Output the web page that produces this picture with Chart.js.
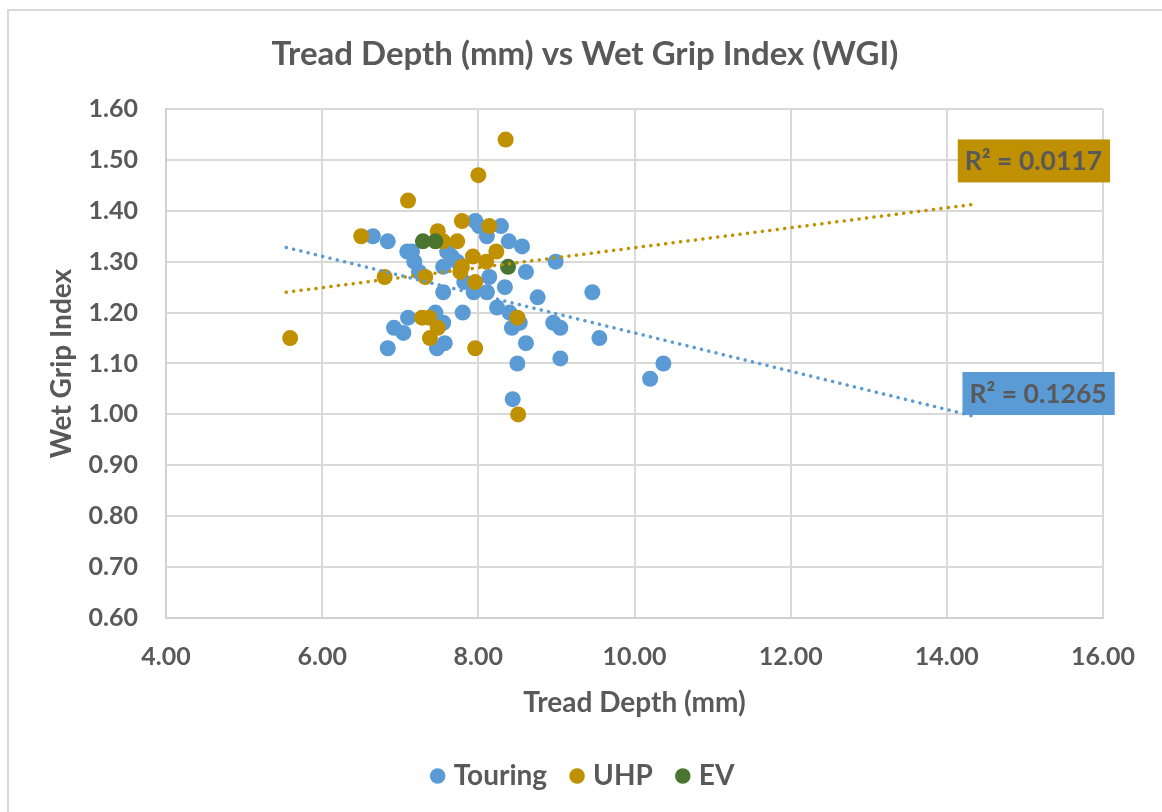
<!DOCTYPE html>
<html>
<head>
<meta charset="utf-8">
<script src="https://cdn.jsdelivr.net/npm/chart.js@4.4.0/dist/chart.umd.min.js"></script>
<style>
  html, body { margin: 0; padding: 0; background: #fff; }
  canvas { display: block; }
</style>
</head>
<body>
<canvas id="wgiChart" width="1162" height="812"></canvas>
<script>
// ============================
//  DATA
// ============================

const touringDepth = [6.65, 6.84, 6.84, 6.92, 7.04, 7.10, 7.09, 7.15, 7.18, 7.24, 7.45, 7.47, 7.55, 7.55, 7.57,
    7.55, 7.60, 7.66, 7.73, 7.80, 7.82, 7.96, 8.01, 7.94, 8.11, 8.11, 8.14, 8.29, 8.24, 8.34, 8.39,
    8.40, 8.43, 8.44, 8.50, 8.53, 8.56, 8.61, 8.61, 8.76, 8.96, 8.99, 9.05, 9.05, 9.46, 9.55, 10.20, 10.37];
const touringWGI = [1.35, 1.34, 1.13, 1.17, 1.16, 1.19, 1.32, 1.32, 1.30, 1.28, 1.20, 1.13, 1.24, 1.18, 1.14,
    1.29, 1.32, 1.31, 1.30, 1.20, 1.26, 1.38, 1.37, 1.24, 1.24, 1.35, 1.27, 1.37, 1.21, 1.25, 1.34,
    1.20, 1.17, 1.03, 1.10, 1.18, 1.33, 1.28, 1.14, 1.23, 1.18, 1.30, 1.17, 1.11, 1.24, 1.15, 1.07, 1.10];

const uhpDepth = [5.59, 6.50, 6.80, 7.10, 7.32, 7.28, 7.37, 7.38, 7.48, 7.48, 7.55, 7.73, 7.79, 7.79,
    7.77, 7.93, 8.00, 7.96, 7.96, 8.14, 8.10, 8.23, 8.35, 8.50, 8.51];
const uhpWGI = [1.15, 1.35, 1.27, 1.42, 1.27, 1.19, 1.19, 1.15, 1.17, 1.36, 1.34, 1.34, 1.38, 1.29,
    1.28, 1.31, 1.47, 1.13, 1.26, 1.37, 1.30, 1.32, 1.54, 1.19, 1.00];

const evDepth = [7.29, 7.45, 8.38];
const evWGI = [1.34, 1.34, 1.29];

// linear trendlines (end points as drawn)
const touringTrendX = [5.54, 14.36];
const touringTrendY = [1.328, 0.996];
const uhpTrendX = [5.54, 14.36];
const uhpTrendY = [1.240, 1.413];
const touringR2 = 0.1265;
const uhpR2 = 0.0117;

const xTicks = [4, 6, 8, 10, 12, 14, 16];
const yTicks = [0.6, 0.7, 0.8, 0.9, 1.0, 1.1, 1.2, 1.3, 1.4, 1.5, 1.6];

const BLUE = '#5B9BD5';
const GOLD = '#BF9000';
const GREEN = '#4A7530';
const TEXT = '#595959';
const FONT = 'Lato, "Open Sans", sans-serif';

function pts(xs, ys) {
    return xs.map((x, i) => ({ x: x, y: ys[i] }));
}

// ============================
//  PLUGINS
// ============================

const frame = {
    id: 'frame',
    beforeDraw(chart) {
        const c = chart.ctx;
        c.save();
        c.fillStyle = '#fff';
        c.fillRect(0, 0, chart.width, chart.height);
        c.strokeStyle = '#d9d9d9';
        c.lineWidth = 2;
        c.strokeRect(8, 10, chart.width + 20, chart.height + 20);
        c.restore();
    }
};

const r2Labels = {
    id: 'r2Labels',
    afterDatasetsDraw(chart, args, opts) {
        const c = chart.ctx;
        const xs = chart.scales.x, ys = chart.scales.y;
        c.save();
        c.font = 'bold 26.5px ' + FONT;
        c.textBaseline = 'middle';
        opts.items.forEach(it => {
            const left = xs.getPixelForValue(it.x);
            const cy = ys.getPixelForValue(it.y);
            const txt = 'R² = ' + it.value.toFixed(4);
            const w = c.measureText(txt).width + 15;
            c.fillStyle = it.color;
            c.fillRect(left, cy - 21.5, w, 43);
            c.fillStyle = TEXT;
            c.fillText(txt, left + 7, cy + 1);
        });
        c.restore();
    }
};

// ============================
//  CHART
// ============================

const ctx = document.getElementById('wgiChart').getContext('2d');

const trendStyle = {
    type: 'line',
    showLine: true,
    pointRadius: 0,
    borderWidth: 3.5,
    borderDash: [0.1, 7.4],
    borderCapStyle: 'round',
    fill: false,
    order: 0
};

new Chart(ctx, {
    type: 'scatter',
    data: {
        datasets: [
            { label: 'Touring', data: pts(touringDepth, touringWGI), backgroundColor: BLUE, borderWidth: 0, pointRadius: 8, order: 3 },
            { label: 'UHP', data: pts(uhpDepth, uhpWGI), backgroundColor: GOLD, borderWidth: 0, pointRadius: 8, order: 2 },
            { label: 'EV', data: pts(evDepth, evWGI), backgroundColor: GREEN, borderWidth: 0, pointRadius: 8, order: 1 },
            Object.assign({ label: 'trendT', data: pts(touringTrendX, touringTrendY), borderColor: BLUE }, trendStyle),
            Object.assign({ label: 'trendU', data: pts(uhpTrendX, uhpTrendY), borderColor: GOLD }, trendStyle)
        ]
    },
    options: {
        responsive: false,
        animation: false,
        layout: { padding: { left: 8, right: 0, top: 0, bottom: 12 } },
        scales: {
            x: {
                type: 'linear',
                min: 4, max: 16,
                afterBuildTicks: s => { s.ticks = xTicks.map(v => ({ value: v })); },
                afterFit: s => { s.height = 116; },
                ticks: { callback: v => v.toFixed(2), color: TEXT, font: { family: FONT, size: 25, weight: 'bold' }, padding: 24, maxRotation: 0 },
                grid: { color: '#d9d9d9', lineWidth: 2, drawTicks: false },
                border: { color: '#d0d0d0', width: 2 },
                title: { display: true, text: 'Tread Depth (mm)', color: TEXT, font: { family: FONT, size: 28, weight: 'bold' }, padding: { top: 10, bottom: 14 } }
            },
            y: {
                type: 'linear',
                min: 0.6, max: 1.6,
                afterBuildTicks: s => { s.ticks = yTicks.map(v => ({ value: v })); },
                afterFit: s => { s.width = 158; },
                ticks: { callback: v => v.toFixed(2), color: TEXT, font: { family: FONT, size: 25, weight: 'bold' }, padding: 28 },
                grid: { color: '#d9d9d9', lineWidth: 2, drawTicks: false },
                border: { color: '#d0d0d0', width: 2 },
                title: { display: true, text: 'Wet Grip Index', color: TEXT, font: { family: FONT, size: 28, weight: 'bold' }, padding: { top: 37, bottom: 0 } }
            },
            // empty right margin so legend and title centre on the whole frame
            yRight: {
                type: 'linear',
                position: 'right',
                min: 0, max: 1,
                afterFit: s => { s.width = 59; },
                ticks: { display: false },
                grid: { display: false },
                border: { display: false }
            }
        },
        plugins: {
            title: {
                display: true,
                text: 'Tread Depth (mm) vs Wet Grip Index (WGI)',
                color: TEXT,
                font: { family: FONT, size: 33, weight: 'bold' },
                padding: { top: 35, bottom: 34.4 }
            },
            legend: {
                position: 'bottom',
                labels: {
                    usePointStyle: true,
                    pointStyle: 'circle',
                    boxWidth: 4,
                    boxHeight: 11,
                    padding: 28,
                    color: TEXT,
                    font: { family: FONT, size: 28, weight: 'bold' },
                    filter: item => item.datasetIndex < 3,
                    sort: (a, b) => a.datasetIndex - b.datasetIndex
                }
            },
            tooltip: { enabled: false },
            r2Labels: {
                items: [
                    { x: 14.14, y: 1.498, value: uhpR2, color: GOLD },
                    { x: 14.20, y: 1.041, value: touringR2, color: BLUE }
                ]
            }
        }
    },
    plugins: [frame, r2Labels]
});
</script>
</body>
</html>
